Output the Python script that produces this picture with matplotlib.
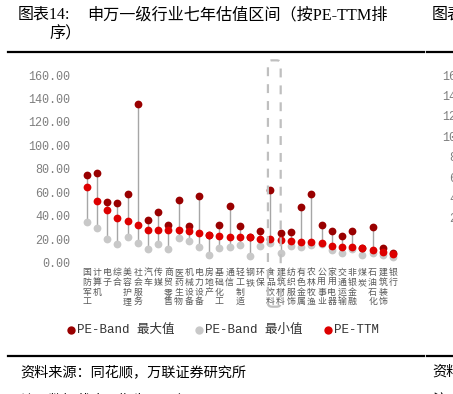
import matplotlib
matplotlib.use("Agg")
import matplotlib.pyplot as plt
from matplotlib.lines import Line2D
from matplotlib.patches import FancyBboxPatch

# industries sorted by PE-TTM
cats = ["国防军工", "计算机", "电子", "综合", "美容护理", "社会服务", "汽车", "传媒",
        "商贸零售", "医药生物", "机械设备", "电力设备", "房地产", "基础化工", "通信",
        "轻工制造", "钢铁", "环保", "食品饮料", "建筑材料", "纺织服饰", "有色金属",
        "农林牧渔", "公用事业", "家用电器", "交通运输", "非银金融", "煤炭", "石油石化",
        "建筑装饰", "银行"]
pe_max = [74.9, 76.3, 51.7, 51.1, 58.2, 135.3, 36.1, 43.4, 32.4, 53.4, 31.5, 56.5,
          24.0, 32.4, 48.3, 31.0, 22.0, 27.0, 62.1, 25.5, 26.0, 47.7, 58.5, 32.1,
          27.0, 23.0, 27.0, 12.8, 30.1, 12.2, 8.0]
pe_ttm = [64.2, 52.8, 44.9, 38.0, 35.2, 32.4, 27.8, 27.8, 27.8, 27.6, 26.7, 25.3,
          23.5, 22.7, 21.6, 21.6, 21.6, 20.5, 20.2, 19.6, 18.8, 17.9, 17.9, 17.0,
          14.5, 13.1, 13.1, 12.2, 10.8, 9.4, 7.4]
pe_min = [34.9, 29.5, 19.9, 15.6, 21.9, 17.0, 11.9, 15.6, 11.9, 21.0, 18.5, 13.1,
          6.5, 12.2, 13.6, 14.8, 5.4, 14.5, 16.5, 8.6, 14.6, 13.6, 15.1, 15.6,
          10.8, 8.0, 11.7, 6.5, 8.5, 6.5, 4.6]
yticks = [0, 20, 40, 60, 80, 100, 120, 140, 160]
# ticks of the neighbouring chart, cut off at the right edge
right_ticks = [160, 140, 120, 100, 80, 60, 40, 20]

legend_names = ["PE-Band 最大值", "PE-Band 最小值", "PE-TTM"]

C_MAX = "#990000"
C_MIN = "#C8C8C8"
C_TTM = "#DD0000"

W, H = 453, 394
CJK = ["Liberation Serif", "Noto Sans CJK SC"]
MONO = ["Liberation Mono", "Noto Sans CJK SC"]


def fx(p):
    return p / W


def fy(p):
    return 1 - p / H


fig = plt.figure(figsize=(W / 100, H / 100), dpi=100)

# titles
fig.text(fx(18), fy(15), "图表14:", family=CJK, fontsize=11.5, va="center")
fig.text(fx(87), fy(15), "申万一级行业七年估值区间（按PE-TTM排", family=CJK,
         fontsize=11.6, va="center")
fig.text(fx(50), fy(34), "序）", family=CJK, fontsize=11.6, va="center")
fig.text(fx(432), fy(15), "图表15:", family=CJK, fontsize=11.5, va="center")

# rules
for y in (51.5, 355.7):
    fig.add_artist(Line2D([fx(8), fx(424)], [fy(y), fy(y)], color="black", lw=1.6))
    fig.add_artist(Line2D([fx(427), fx(453)], [fy(y), fy(y)], color="black", lw=1.6))

ax = fig.add_axes([fx(81.6), fy(262.7), fx(398.1) - fx(81.6), fy(75) - fy(262.7)])
x = list(range(len(cats)))

ax.vlines(x, pe_min, pe_max, color="#A6A6A6", lw=1.0, zorder=1)
ax.plot(x, pe_min, "o", ms=5.6, mew=0, color=C_MIN, clip_on=False, zorder=2)
ax.plot(x, pe_max, "o", ms=5.6, mew=0, color=C_MAX, clip_on=False, zorder=3)
ax.plot(x, pe_ttm, "o", ms=5.6, mew=0, color=C_TTM, clip_on=False, zorder=4)

ax.set_xlim(-0.5, len(cats) - 0.5)
ax.set_ylim(0, 160)
ax.set_yticks(yticks)
ax.set_yticklabels(["%.2f" % v for v in yticks], family=MONO, fontsize=8.5,
                   color="#7F7F7F")
ax.set_xticks(x)
ax.set_xticklabels(["\n".join(c) for c in cats], family=["Noto Sans CJK SC"],
                   fontsize=6.4, color="#595959", linespacing=1.1, va="top")
ax.tick_params(axis="y", length=0, pad=8)
ax.tick_params(axis="x", length=0, pad=4)
for s in ax.spines.values():
    s.set_visible(False)
ax.patch.set_visible(False)

# dashed box around 食品饮料
box = FancyBboxPatch((17.75, -37.5), 1.25, 210, boxstyle="round,pad=0,rounding_size=0.4",
                     mutation_aspect=8, fill=False, ec="#BFBFBF", lw=1.6,
                     ls=(0, (4.0, 3.6)), clip_on=False, zorder=5)
ax.add_patch(box)

# legend
for px, name, c in zip([71, 199, 328], legend_names, [C_MAX, C_MIN, C_TTM]):
    fig.add_artist(Line2D([fx(px)], [fy(330)], marker="o", ms=6, mew=0, color=c))
    fig.text(fx(px + 6), fy(330), name, family=MONO, fontsize=9, va="center",
             color="#333333")

# right neighbour axis labels (clipped)
for i, v in enumerate(right_ticks):
    fig.text(fx(484), fy(76.7 + 20.4 * i), "%.2f" % v, family=MONO, fontsize=8.5,
             color="#7F7F7F", ha="right", va="center")

# source notes
fig.text(fx(20), fy(372), "资料来源：同花顺，万联证券研究所", family=CJK,
         fontsize=10.2, va="center")
fig.text(fx(20), fy(401), "注：数据截止日期为2025年6月30日", family=CJK,
         fontsize=10.2, va="center")
fig.text(fx(432), fy(372), "资料来源：", family=CJK, fontsize=10.2, va="center")
fig.text(fx(432), fy(401), "注：", family=CJK, fontsize=10.2, va="center")

fig.savefig("out.png", dpi=100)
